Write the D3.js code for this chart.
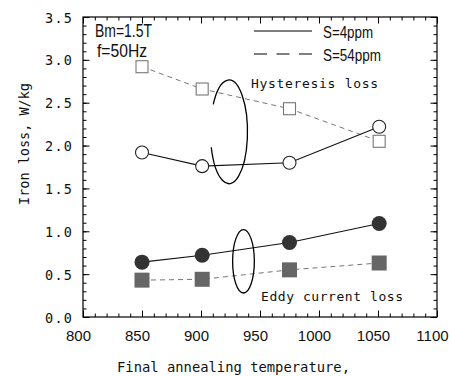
<!DOCTYPE html>
<html><head><meta charset="utf-8">
<script src="https://cdn.jsdelivr.net/npm/d3@7"></script>
<style>body{margin:0;background:#fff}svg{display:block}</style>
</head><body>
<svg id="c" width="449" height="376"></svg>
<script>
const temps = [850, 901, 975, 1051];
const hystS4 = [1.92, 1.76, 1.80, 2.22];
const hystS54 = [2.92, 2.66, 2.43, 2.05];
const eddyS4 = [0.64, 0.72, 0.87, 1.09];
const eddyS54 = [0.43, 0.44, 0.55, 0.63];
const xTicks = [800, 850, 900, 950, 1000, 1050, 1100];
const yTicks = [0.0, 0.5, 1.0, 1.5, 2.0, 2.5, 3.0, 3.5];

const svg = d3.select("#c");
const m = {l: 83, r: 437, t: 17, b: 317};
const x = d3.scaleLinear().domain([800, 1100]).range([m.l, m.r]);
const y = d3.scaleLinear().domain([0, 3.5]).range([m.b, m.t]);

const narrow = "'Liberation Sans Narrow','Arial Narrow','Liberation Sans',Arial,sans-serif";
const mono = "'DejaVu Sans Mono',monospace";

// frame
svg.append("rect").attr("x", m.l).attr("y", m.t).attr("width", m.r - m.l).attr("height", m.b - m.t)
  .attr("fill", "none").attr("stroke", "#000").attr("stroke-width", 1.2);

const minorX = d3.range(800, 1101, 10);
const minorY = d3.range(0, 3.51, 0.1);
function ticks(axisFn, scale, vals, size, transform) {
  const g = svg.append("g").attr("transform", transform)
    .call(axisFn(scale).tickValues(vals).tickSize(size).tickFormat(""));
  g.select(".domain").remove();
  g.selectAll("line").attr("stroke", "#000").attr("stroke-width", 1);
  return g;
}
// inward ticks on all four sides
ticks(d3.axisBottom, x, minorX, -3.5, `translate(0,${m.b})`);
ticks(d3.axisBottom, x, xTicks, -6.5, `translate(0,${m.b})`);
ticks(d3.axisTop, x, minorX, -3.5, `translate(0,${m.t})`);
ticks(d3.axisTop, x, xTicks, -6.5, `translate(0,${m.t})`);
ticks(d3.axisLeft, y, minorY, -3.5, `translate(${m.l},0)`);
ticks(d3.axisLeft, y, yTicks, -6.5, `translate(${m.l},0)`);
ticks(d3.axisRight, y, minorY, -3.5, `translate(${m.r},0)`);
ticks(d3.axisRight, y, yTicks, -6.5, `translate(${m.r},0)`);

// tick labels
svg.append("g").selectAll("text").data(xTicks).join("text")
  .attr("x", d => x(d) - 4.5).attr("y", 341)
  .attr("text-anchor", "middle").attr("font-family", "'Liberation Sans',Arial,sans-serif")
  .attr("font-size", 15).attr("fill", "#111").text(d => d);
svg.append("g").selectAll("text").data(yTicks).join("text")
  .attr("x", 72).attr("y", d => y(d) + 5.5)
  .attr("text-anchor", "end").attr("font-family", mono)
  .attr("font-size", 13.5).attr("fill", "#111")
  .attr("textLength", 27).attr("lengthAdjust", "spacing")
  .text(d => d.toFixed(1));

// axis titles
svg.append("text").attr("x", 117).attr("y", 372).attr("font-family", mono).attr("font-size", 13.5)
  .attr("fill", "#111").attr("textLength", 233).attr("lengthAdjust", "spacingAndGlyphs")
  .text("Final annealing temperature,");
svg.append("text").attr("transform", "translate(29,144) rotate(-90)").attr("text-anchor", "middle")
  .attr("font-family", mono).attr("font-size", 13.5).attr("fill", "#111")
  .attr("textLength", 122).attr("lengthAdjust", "spacingAndGlyphs")
  .text("Iron loss, W/kg");

// lines
const line = (vals) => d3.line().x((d, i) => x(temps[i])).y(d => y(d))(vals);
svg.append("path").attr("d", line(hystS54)).attr("fill", "none").attr("stroke", "#777").attr("stroke-width", 1).attr("stroke-dasharray", "5,4");
svg.append("path").attr("d", line(eddyS54)).attr("fill", "none").attr("stroke", "#777").attr("stroke-width", 1).attr("stroke-dasharray", "5,4");
svg.append("path").attr("d", line(hystS4)).attr("fill", "none").attr("stroke", "#111").attr("stroke-width", 1.1);
svg.append("path").attr("d", line(eddyS4)).attr("fill", "none").attr("stroke", "#111").attr("stroke-width", 1.1);

// markers
svg.append("g").selectAll("rect").data(hystS54).join("rect")
  .attr("x", (d, i) => x(temps[i]) - 6).attr("y", d => y(d) - 6).attr("width", 12).attr("height", 12)
  .attr("fill", "#fff").attr("stroke", "#777").attr("stroke-width", 1.1);
svg.append("g").selectAll("circle").data(hystS4).join("circle")
  .attr("cx", (d, i) => x(temps[i])).attr("cy", d => y(d)).attr("r", 6.5)
  .attr("fill", "#fff").attr("stroke", "#222").attr("stroke-width", 1.1);
svg.append("g").selectAll("rect").data(eddyS54).join("rect")
  .attr("x", (d, i) => x(temps[i]) - 7.5).attr("y", d => y(d) - 7.5).attr("width", 15).attr("height", 15)
  .attr("fill", "#666");
svg.append("g").selectAll("circle").data(eddyS4).join("circle")
  .attr("cx", (d, i) => x(temps[i])).attr("cy", d => y(d)).attr("r", 7.5)
  .attr("fill", "#333");

// ellipses (annotation), defined in data units
const hystEll = {cx: 923.7, cy: 2.16, rx: 15.7, ry: 0.605, gapTop: 2.48, gapBot: 1.98};
const eddyEll = {cx: 936, cy: 0.65, rx: 9.2, ry: 0.37};
{
  const e = hystEll;
  const cxp = x(e.cx), cyp = y(e.cy), rxp = x(e.cx + e.rx) - cxp, ryp = y(e.cy) - y(e.cy + e.ry);
  const y1 = y(e.gapTop), y2 = y(e.gapBot);
  const s1 = (y1 - cyp) / ryp, s2 = (y2 - cyp) / ryp;
  const x1 = cxp - rxp * Math.sqrt(1 - s1 * s1), x2 = cxp - rxp * Math.sqrt(1 - s2 * s2);
  svg.append("path").attr("d", `M${x1},${y1} A${rxp},${ryp} 0 1 1 ${x2},${y2}`)
    .attr("fill", "none").attr("stroke", "#000").attr("stroke-width", 1.3);
}
svg.append("ellipse").attr("cx", x(eddyEll.cx)).attr("cy", y(eddyEll.cy))
  .attr("rx", x(eddyEll.cx + eddyEll.rx) - x(eddyEll.cx)).attr("ry", y(eddyEll.cy) - y(eddyEll.cy + eddyEll.ry))
  .attr("fill", "none").attr("stroke", "#000").attr("stroke-width", 1.3);

// annotations
svg.append("text").attr("x", 95).attr("y", 37).attr("font-family", narrow).attr("font-size", 17.5)
  .attr("fill", "#111").attr("textLength", 57).attr("lengthAdjust", "spacingAndGlyphs").text("Bm=1.5T");
svg.append("text").attr("x", 97).attr("y", 56.5).attr("font-family", narrow).attr("font-size", 17.5)
  .attr("fill", "#111").attr("textLength", 50).attr("lengthAdjust", "spacingAndGlyphs").text("f=50Hz");

// legend
const legend = [{label: "S=4ppm", dash: null, y: 31}, {label: "S=54ppm", dash: "13,9.5", y: 54}];
legend.forEach(l => {
  svg.append("line").attr("x1", 254).attr("x2", 312).attr("y1", l.y).attr("y2", l.y)
    .attr("stroke", "#000").attr("stroke-width", 1.1).attr("stroke-dasharray", l.dash);
  svg.append("text").attr("x", 323).attr("y", l.y + 7).attr("font-family", narrow).attr("font-size", 16)
    .attr("fill", "#111").attr("textLength", l.label === "S=4ppm" ? 50 : 58)
    .attr("lengthAdjust", "spacingAndGlyphs").text(l.label);
});

svg.append("text").attr("x", 251).attr("y", 88).attr("font-family", mono).attr("font-size", 13)
  .attr("fill", "#111").attr("textLength", 127).attr("lengthAdjust", "spacing").text("Hysteresis loss");
svg.append("text").attr("x", 261).attr("y", 301).attr("font-family", mono).attr("font-size", 13)
  .attr("fill", "#111").attr("textLength", 142).attr("lengthAdjust", "spacing").text("Eddy current loss");
</script>
</body></html>
